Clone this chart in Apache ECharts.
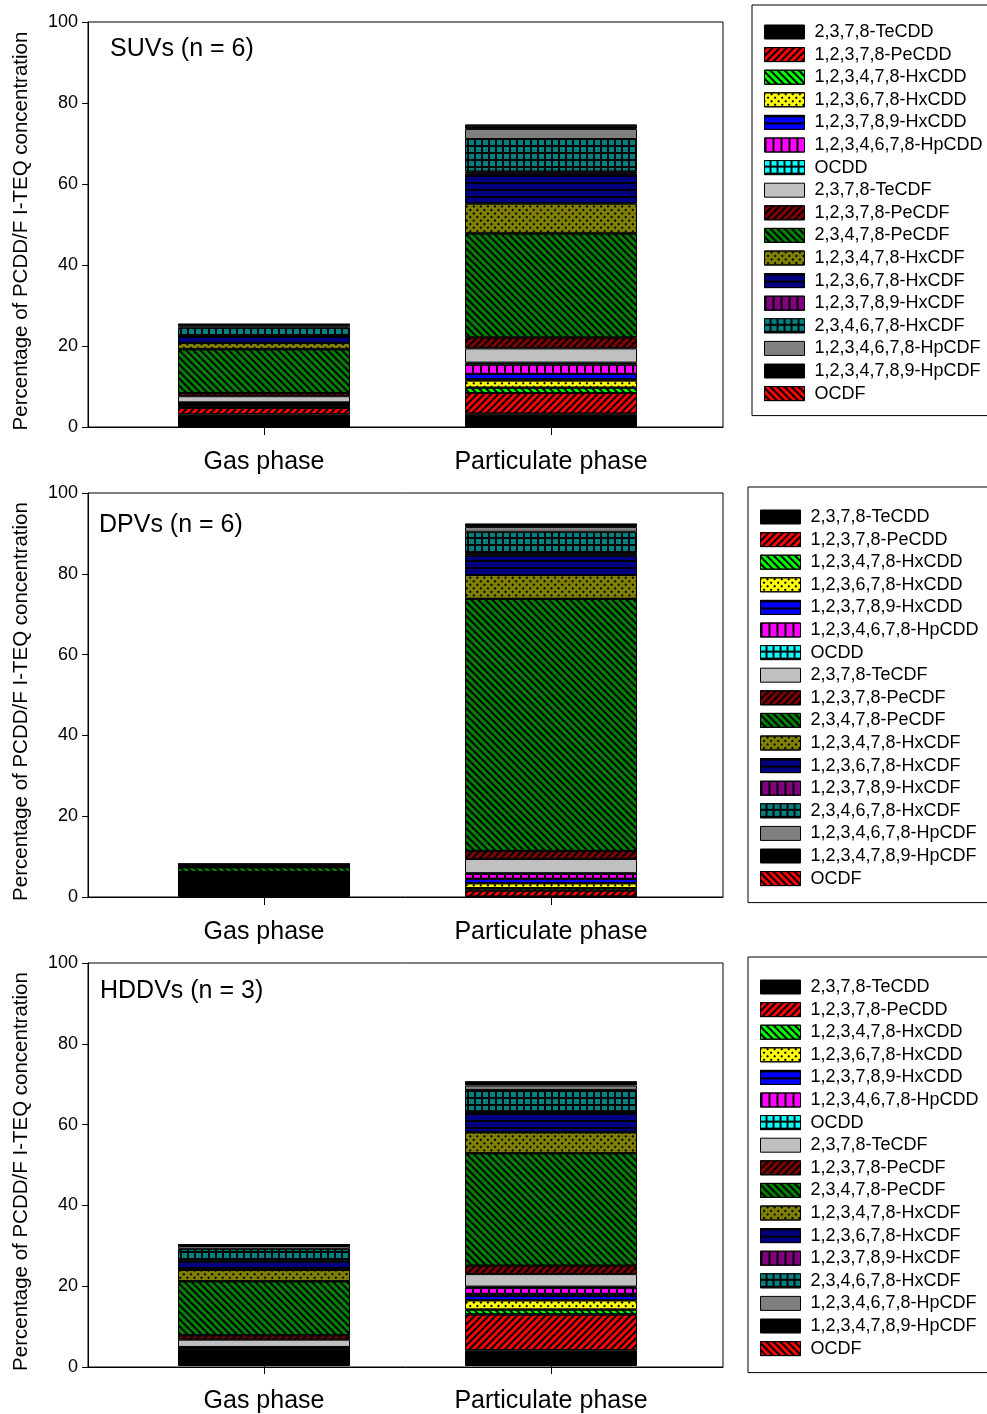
<!DOCTYPE html>
<html>
<head>
<meta charset="utf-8">
<script src="https://cdn.jsdelivr.net/npm/echarts@6/dist/echarts.min.js"></script>
<style>
  html, body { margin: 0; padding: 0; background: #fff; }
  #chart { width: 987px; height: 1414px; }
</style>
</head>
<body>
<div id="chart"></div>
<script>
const categories = ['Gas phase', 'Particulate phase'];
const panelTitles = ['SUVs (n = 6)', 'DPVs (n = 6)', 'HDDVs (n = 3)'];

const congeners = [
  '2,3,7,8-TeCDD', '1,2,3,7,8-PeCDD', '1,2,3,4,7,8-HxCDD', '1,2,3,6,7,8-HxCDD',
  '1,2,3,7,8,9-HxCDD', '1,2,3,4,6,7,8-HpCDD', 'OCDD', '2,3,7,8-TeCDF',
  '1,2,3,7,8-PeCDF', '2,3,4,7,8-PeCDF', '1,2,3,4,7,8-HxCDF', '1,2,3,6,7,8-HxCDF',
  '1,2,3,7,8,9-HxCDF', '2,3,4,6,7,8-HxCDF', '1,2,3,4,6,7,8-HpCDF', '1,2,3,4,7,8,9-HpCDF', 'OCDF'
];

// percentage of I-TEQ, one value per congener (same order as above)
const suvGas  = [3.1, 1.6, 0.3, 0.4, 0.2, 0.4, 0.1, 1.5, 0.8, 10.8, 1.6, 1.8, 0.1, 1.8, 0.5, 0.3, 0.1];
const suvPart = [3.3, 5.1, 1.3, 1.8, 1.6, 2.3, 0.5, 3.5, 2.7, 25.7, 7.4, 7.4, 0.5, 8.0, 2.5, 0.8, 0.2];
const dpvGas  = [5.6, 0.1, 0.1, 0.05, 0.05, 0.05, 0.02, 0.1, 0.1, 1.2, 0.1, 0.1, 0.02, 0.1, 0.05, 0.4, 0.02];
const dpvPart = [0.1, 1.5, 0.6, 1.2, 1.1, 1.2, 0.2, 3.5, 2.0, 62.4, 5.9, 4.8, 0.5, 5.4, 1.2, 0.6, 0.1];
const hddvGas  = [4.3, 0.05, 0.02, 0.02, 0.02, 0.3, 0.02, 1.8, 1.1, 13.4, 2.8, 2.1, 0.05, 3.1, 0.7, 0.3, 0.02];
const hddvPart = [3.9, 8.9, 1.2, 2.3, 1.6, 1.5, 0.3, 3.1, 2.1, 27.9, 5.2, 5.0, 0.2, 5.3, 1.1, 0.8, 0.1];

const panels = [[suvGas, suvPart], [dpvGas, dpvPart], [hddvGas, hddvPart]];

// fill patterns (SigmaPlot-like hatches) built with ECharts decals
const Q = Math.PI / 4;
const lines = (rot, w, gap) => ({ symbol: 'rect', symbolSize: 1, color: '#000', dashArrayX: [1, 0], dashArrayY: [w, gap], rotation: rot });
const vlines = (w, gap) => ({ symbol: 'rect', symbolSize: 1, color: '#000', dashArrayX: [w, gap], dashArrayY: [1, 0], rotation: 0 });
const cells = (c) => ({ symbol: 'rect', symbolSize: 1, color: c, dashArrayX: [5, 1.6], dashArrayY: [5, 1.6], rotation: 0 });
const dots = () => ({ symbol: 'rect', symbolSize: 1, color: '#000', dashArrayX: [2, 2.2], dashArrayY: [2, 2.2], rotation: Q });

const styles = [
  { color: '#000000' },
  { color: '#ff0000', decal: lines(-Q, 1.6, 3) },
  { color: '#00ff00', decal: lines(Q, 1.6, 3) },
  { color: '#ffff00', decal: dots() },
  { color: '#0000ff', decal: lines(0, 1.4, 5) },
  { color: '#ff00ff', decal: vlines(1.4, 6) },
  { color: '#000000', decal: cells('#00ffff') },
  { color: '#c0c0c0' },
  { color: '#800000', decal: lines(-Q, 1.6, 3) },
  { color: '#008000', decal: lines(Q, 1.6, 3) },
  { color: '#808000', decal: dots() },
  { color: '#000080', decal: lines(0, 1.4, 5) },
  { color: '#800080', decal: vlines(1.4, 6) },
  { color: '#000000', decal: cells('#008080') },
  { color: '#808080' },
  { color: '#000000' },
  { color: '#ff0000', decal: lines(Q, 1.6, 3) }
];

const FONT = 'Liberation Sans, Arial, sans-serif';
const plotTops = [22, 493, 963];
const plotH = [405, 404, 404];
const legendTops = [5, 487, 957];
const legendLefts = [752, 748, 748];
const legendPad = [[18, 20, 13, 12], [21, 20, 15, 12], [21, 20, 15, 12]];
const titlePos = [[110, 48], [99, 524], [100, 990]];

const grid = [], xAxis = [], yAxis = [], legend = [], series = [], graphic = [];
panels.forEach((pd, p) => {
  const gFrame = 2 * p, gBars = 2 * p + 1;
  // frame grid: full plot box with the y axis
  grid.push({ left: 88, top: plotTops[p], width: 635, height: plotH[p], show: true, borderColor: '#000', borderWidth: 1 });
  // bar grid: category bands of 287px centred on 264px and 551px
  grid.push({ left: 120.5, top: plotTops[p], width: 574, height: plotH[p] });
  xAxis.push({
    type: 'value', gridIndex: gFrame, min: 0, max: 1,
    splitLine: { show: false }, axisTick: { show: false }, axisLabel: { show: false },
    axisLine: { show: true, onZero: false, lineStyle: { color: '#000', width: 1 } }
  });
  xAxis.push({
    type: 'category', gridIndex: gBars, data: categories,
    axisLine: { show: false },
    axisTick: { show: true, alignWithLabel: true, inside: false, length: 8, lineStyle: { color: '#000' } },
    axisLabel: { margin: 23, fontSize: 25, color: '#000', fontFamily: FONT }
  });
  yAxis.push({
    type: 'value', gridIndex: gFrame, min: 0, max: 100, interval: 20,
    name: 'Percentage of PCDD/F I-TEQ concentration', nameLocation: 'middle', nameGap: 56,
    nameTextStyle: { fontSize: 20.5, color: '#000', fontFamily: FONT, padding: [0, 13, 0, 0] },
    splitLine: { show: false },
    axisLine: { show: true, lineStyle: { color: '#000', width: 1 } },
    axisTick: { show: true, inside: false, length: 6, lineStyle: { color: '#000' } },
    axisLabel: { fontSize: 18, color: '#000', margin: 10, fontFamily: FONT }
  });
  yAxis.push({
    type: 'value', gridIndex: gBars, min: 0, max: 100, interval: 20, show: false
  });
  legend.push({
    orient: 'vertical', left: legendLefts[p], top: legendTops[p],
    data: congeners, icon: 'rect', itemWidth: 40, itemHeight: 14, itemGap: 4.6,
    padding: legendPad[p], borderColor: '#000', borderWidth: 1, backgroundColor: '#fff',
    selectedMode: false,
    itemStyle: { borderColor: '#000', borderWidth: 1 },
    textStyle: { fontSize: 18, color: '#000', fontFamily: FONT, lineHeight: 14, padding: [0, 0, 0, 5] }
  });
  graphic.push({
    type: 'text', left: titlePos[p][0], top: titlePos[p][1] - 11,
    style: { text: panelTitles[p], fontSize: 25, fill: '#000', fontFamily: FONT }
  });
  congeners.forEach((name, i) => {
    series.push({
      type: 'bar', name: name, stack: 'p' + p, xAxisIndex: gBars, yAxisIndex: gBars,
      barWidth: 172, animation: false,
      itemStyle: Object.assign({ borderColor: '#000', borderWidth: 1 }, styles[i]),
      emphasis: { disabled: true },
      data: [pd[0][i], pd[1][i]]
    });
  });
});

const chart = echarts.init(document.getElementById('chart'), null, { renderer: 'canvas' });
chart.setOption({
  animation: false,
  backgroundColor: '#fff',
  textStyle: { fontFamily: FONT },
  grid, xAxis, yAxis, legend, series, graphic
});
</script>
</body>
</html>
